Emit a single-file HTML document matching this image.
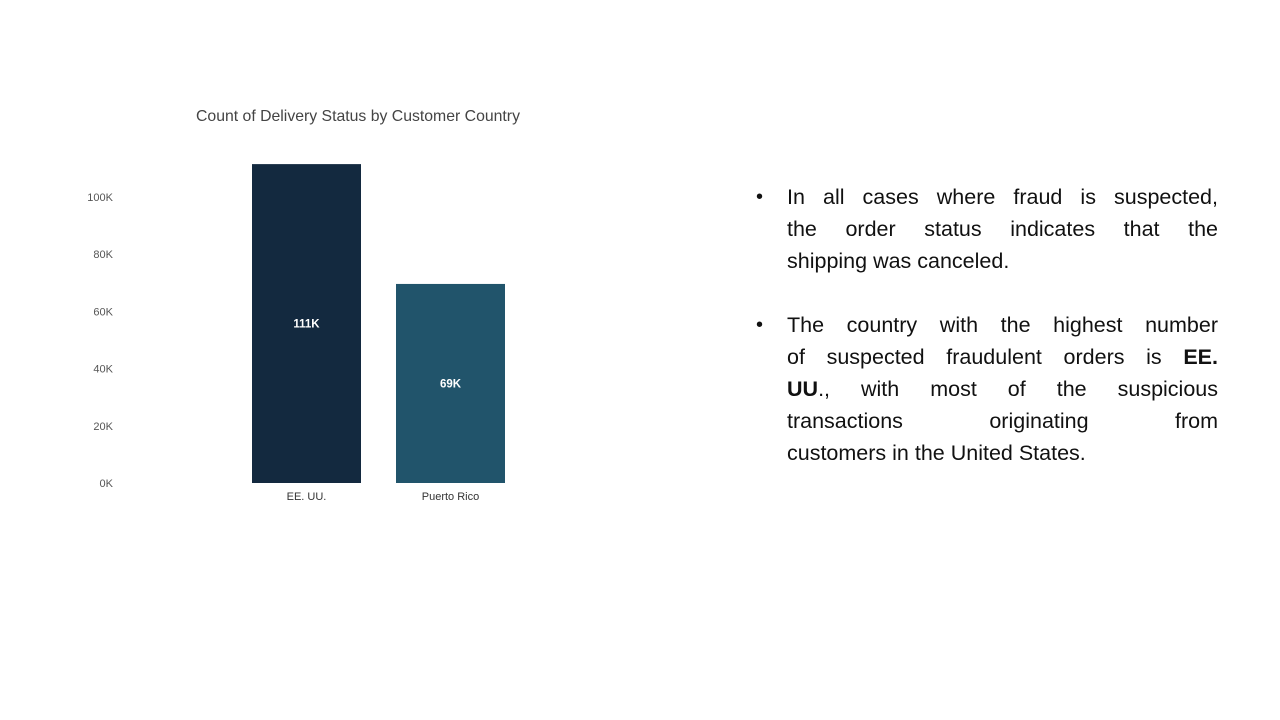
<!DOCTYPE html>
<html><head><meta charset="utf-8"><style>
body{margin:0;width:1280px;height:720px;background:#fff;position:relative;overflow:hidden;font-family:"Liberation Sans",sans-serif}
.ln{position:absolute;left:787px;width:431px;height:32px;line-height:32px;font-size:21.5px;color:#111;white-space:nowrap;text-align:justify;text-align-last:justify}
.ln.last{text-align-last:left}
.bul{position:absolute;left:756px;font-size:20px;line-height:32px;color:#111}
</style></head><body>
<svg id="chart" width="600" height="540" style="position:absolute;left:0;top:0" xmlns="http://www.w3.org/2000/svg">
<text x="196" y="121" font-family="Liberation Sans, sans-serif" font-size="15.8" fill="#444">Count of Delivery Status by Customer Country</text>
<g id="yaxis"></g>
<g id="bars"></g>
</svg>
<span class="bul" style="top:181px">•</span>
<div class="ln" style="top:181px">In all cases where fraud is suspected,</div>
<div class="ln" style="top:213px">the order status indicates that the</div>
<div class="ln last" style="top:245px">shipping was canceled.</div>
<span class="bul" style="top:309px">•</span>
<div class="ln" style="top:309px">The country with the highest number</div>
<div class="ln" style="top:341px">of suspected fraudulent orders is <b>EE.</b></div>
<div class="ln" style="top:373px"><b>UU</b>., with most of the suspicious</div>
<div class="ln" style="top:405px">transactions originating from</div>
<div class="ln last" style="top:437px">customers in the United States.</div>
<script>
const categories = ["EE. UU.", "Puerto Rico"];
const values = [111.5, 69.6];
const valueLabels = ["111K", "69K"];
const ticks = [0, 20, 40, 60, 80, 100];
const tickLabels = ["0K", "20K", "40K", "60K", "80K", "100K"];
const colors = ["#13293f", "#21546b"];
const NS = "http://www.w3.org/2000/svg";
const y0 = 483, pxPerK = 2.86;
const y = v => y0 - v * pxPerK;
const barX = i => 252 + i * 144;
const barW = 109;
const yaxis = document.getElementById('yaxis');
ticks.forEach((t, i) => {
  const tx = document.createElementNS(NS, 'text');
  
  
  tx.setAttribute('x', 113); tx.setAttribute('y', y(t) + 4);
  tx.setAttribute('text-anchor', 'end'); tx.setAttribute('font-size', '11');
  tx.setAttribute('font-family', 'Liberation Sans, sans-serif'); tx.setAttribute('fill', '#555');
  tx.textContent = tickLabels[i];
  yaxis.appendChild(tx);
});
const bars = document.getElementById('bars');
categories.forEach((c, i) => {
  const r = document.createElementNS(NS, 'rect');
  
  
  r.setAttribute('x', barX(i)); r.setAttribute('y', y(values[i]));
  r.setAttribute('width', barW); r.setAttribute('height', y0 - y(values[i]));
  r.setAttribute('fill', colors[i]);
  bars.appendChild(r);
  const lb = document.createElementNS(NS, 'text');
  
  
  lb.setAttribute('x', barX(i) + barW / 2); lb.setAttribute('y', (y(values[i]) + y0) / 2 + 4);
  lb.setAttribute('text-anchor', 'middle'); lb.setAttribute('font-size', '11.5'); lb.setAttribute('font-weight', 'bold');
  lb.setAttribute('font-family', 'Liberation Sans, sans-serif'); lb.setAttribute('fill', '#fff');
  lb.textContent = valueLabels[i];
  bars.appendChild(lb);
  const xl = document.createElementNS(NS, 'text');
  
  
  xl.setAttribute('x', barX(i) + barW / 2); xl.setAttribute('y', 500);
  xl.setAttribute('text-anchor', 'middle'); xl.setAttribute('font-size', '11');
  xl.setAttribute('font-family', 'Liberation Sans, sans-serif'); xl.setAttribute('fill', '#333');
  xl.textContent = c;
  bars.appendChild(xl);
});
</script>
</body></html>
